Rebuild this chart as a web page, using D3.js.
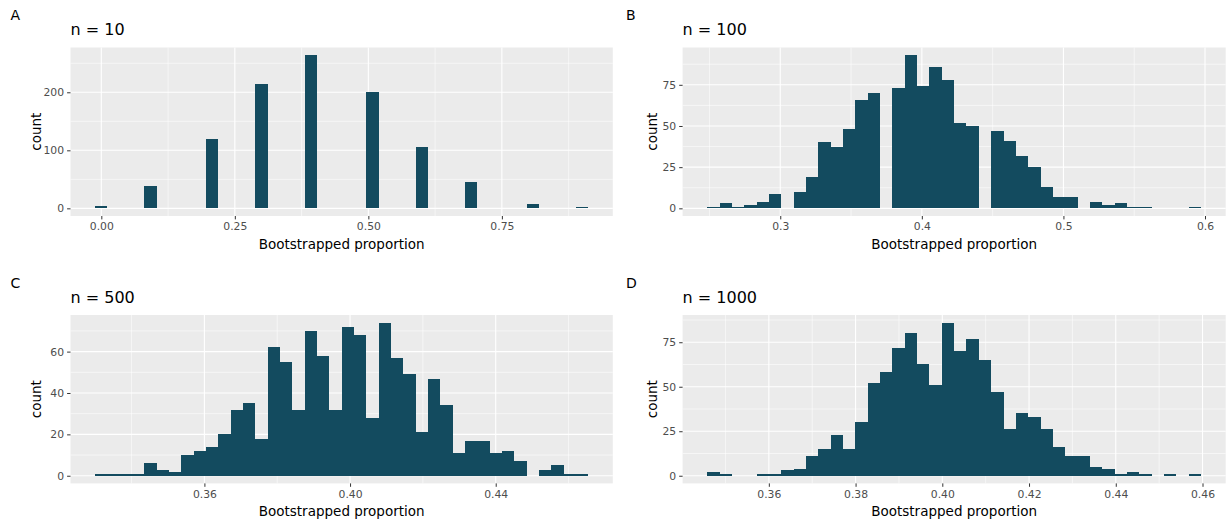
<!DOCTYPE html>
<html>
<head>
<meta charset="utf-8">
<script src="https://cdn.jsdelivr.net/npm/d3@7"></script>
<style>
  body { margin: 0; background: #fff; }
  svg { display: block; font-family: "DejaVu Sans", sans-serif; }
</style>
</head>
<body>
<div id="chart"></div>
<script>
// bootstrapped proportions, 40 bins per panel (ggplot style bins)
var panelLabels = ["A", "B", "C", "D"];
var panelTitles = ["n = 10", "n = 100", "n = 500", "n = 1000"];

// min / max of the bootstrapped values in each panel
var rangeA = [0, 0.9];
var rangeB = [0.25, 0.59];
var rangeC = [0.332, 0.464];
var rangeD = [0.347, 0.458];

// counts per bin
var countsA = [4, 0, 0, 0, 39, 0, 0, 0, 0, 119, 0, 0, 0, 214, 0, 0, 0, 264, 0, 0,
               0, 0, 200, 0, 0, 0, 106, 0, 0, 0, 45, 0, 0, 0, 0, 8, 0, 0, 0, 2];
var countsB = [1, 3, 1, 2, 4, 9, 0, 10, 19, 40, 37, 48, 66, 70, 0, 73, 93, 74, 86, 78,
               52, 50, 0, 47, 41, 32, 25, 13, 7, 7, 0, 4, 2, 3, 1, 1, 0, 0, 0, 1];
var countsC = [1, 1, 1, 1, 6, 3, 2, 10, 12, 14, 20, 32, 35, 18, 62, 55, 32, 70, 58, 32,
               72, 68, 28, 74, 57, 49, 21, 47, 34, 11, 17, 17, 11, 12, 7, 0, 3, 5, 1, 1];
var countsD = [2, 1, 0, 0, 1, 1, 3, 4, 11, 15, 23, 15, 30, 52, 58, 72, 80, 63, 51, 86,
               70, 77, 65, 47, 26, 35, 33, 26, 16, 11, 11, 5, 4, 1, 2, 1, 0, 1, 0, 1];

// axis breaks and labels
var xTicksA = [0, 0.25, 0.5, 0.75], xLabelsA = ["0.00", "0.25", "0.50", "0.75"], xMinorA = [0.125, 0.375, 0.625, 0.875];
var xTicksB = [0.3, 0.4, 0.5, 0.6], xLabelsB = ["0.3", "0.4", "0.5", "0.6"], xMinorB = [0.25, 0.35, 0.45, 0.55];
var xTicksC = [0.36, 0.40, 0.44], xLabelsC = ["0.36", "0.40", "0.44"], xMinorC = [0.34, 0.38, 0.42, 0.46];
var xTicksD = [0.36, 0.38, 0.40, 0.42, 0.44, 0.46], xLabelsD = ["0.36", "0.38", "0.40", "0.42", "0.44", "0.46"],
    xMinorD = [0.35, 0.37, 0.39, 0.41, 0.43, 0.45];
var yTicksA = [0, 100, 200], yMinorA = [50, 150, 250];
var yTicksB = [0, 25, 50, 75], yMinorB = [12.5, 37.5, 62.5, 87.5];
var yTicksC = [0, 20, 40, 60], yMinorC = [10, 30, 50, 70];
var yTicksD = [0, 25, 50, 75], yMinorD = [12.5, 37.5, 62.5, 87.5];

var xTitle = "Bootstrapped proportion", yTitle = "count";
var nBins = 40;
var barColor = "#134b5f";

var panels = [
  {range: rangeA, counts: countsA, xt: xTicksA, xl: xLabelsA, xm: xMinorA, yt: yTicksA, ym: yMinorA,
   cell: [0, 0], box: [70.5, 47.5, 612.8, 216]},
  {range: rangeB, counts: countsB, xt: xTicksB, xl: xLabelsB, xm: xMinorB, yt: yTicksB, ym: yMinorB,
   cell: [615.5, 0], box: [682.6, 47.5, 1225.7, 216]},
  {range: rangeC, counts: countsC, xt: xTicksC, xl: xLabelsC, xm: xMinorC, yt: yTicksC, ym: yMinorC,
   cell: [0, 267.5], box: [70.5, 315, 612.8, 483.4]},
  {range: rangeD, counts: countsD, xt: xTicksD, xl: xLabelsD, xm: xMinorD, yt: yTicksD, ym: yMinorD,
   cell: [615.5, 267.5], box: [682.6, 315, 1225.7, 483.4]}
];

var svg = d3.select("#chart").append("svg")
    .attr("width", 1231)
    .attr("height", 525);

svg.append("rect").attr("width", 1231).attr("height", 525).attr("fill", "#fff");

panels.forEach(function(p, idx) {
  var left = p.box[0], top = p.box[1], width = p.box[2] - p.box[0], height = p.box[3] - p.box[1];

  // bins: width = range / (bins - 1), centred on multiples of the width
  var w = (p.range[1] - p.range[0]) / (nBins - 1);
  var k0 = Math.round(p.range[0] / w);
  var bins = p.counts.map(function(c, i) {
    return {x0: (k0 + i - 0.5) * w, x1: (k0 + i + 0.5) * w, count: c};
  });

  var lo = bins[0].x0, hi = bins[bins.length - 1].x1, span = hi - lo;
  var maxC = d3.max(p.counts);

  var x = d3.scaleLinear().domain([lo - 0.05 * span, hi + 0.05 * span]).range([0, width]);
  var y = d3.scaleLinear().domain([-0.05 * maxC, maxC * 1.05]).range([height, 0]);

  var g = svg.append("g").attr("transform", "translate(" + left + "," + top + ")");

  // panel background + grid
  g.append("rect").attr("width", width).attr("height", height).attr("fill", "#ebebeb");

  var inX = function(v) { return v >= x.domain()[0] && v <= x.domain()[1]; };
  var inY = function(v) { return v >= y.domain()[0] && v <= y.domain()[1]; };

  g.selectAll(".ymin").data(p.ym.filter(inY)).enter().append("line")
      .attr("x1", 0).attr("x2", width)
      .attr("y1", function(d) { return y(d); }).attr("y2", function(d) { return y(d); })
      .attr("stroke", "#fff").attr("stroke-width", 0.55);
  g.selectAll(".xmin").data(p.xm.filter(inX)).enter().append("line")
      .attr("y1", 0).attr("y2", height)
      .attr("x1", function(d) { return x(d); }).attr("x2", function(d) { return x(d); })
      .attr("stroke", "#fff").attr("stroke-width", 0.55);
  g.selectAll(".ymaj").data(p.yt).enter().append("line")
      .attr("x1", 0).attr("x2", width)
      .attr("y1", function(d) { return y(d); }).attr("y2", function(d) { return y(d); })
      .attr("stroke", "#fff").attr("stroke-width", 1.1);
  g.selectAll(".xmaj").data(p.xt).enter().append("line")
      .attr("y1", 0).attr("y2", height)
      .attr("x1", function(d) { return x(d); }).attr("x2", function(d) { return x(d); })
      .attr("stroke", "#fff").attr("stroke-width", 1.1);

  // histogram bars
  g.selectAll(".bar")
      .data(bins.filter(function(b) { return b.count > 0; }))
      .enter().append("rect")
      .attr("class", "bar")
      .attr("x", function(d) { return x(d.x0); })
      .attr("width", function(d) { return x(d.x1) - x(d.x0); })
      .attr("y", function(d) { return y(d.count); })
      .attr("height", function(d) { return y(0) - y(d.count); })
      .attr("fill", barColor)
      .attr("shape-rendering", "crispEdges");

  // axes
  var xa = g.append("g")
      .attr("transform", "translate(0," + height + ")")
      .call(d3.axisBottom(x).tickValues(p.xt).tickSize(3.4).tickPadding(3.2)
        .tickFormat(function(d, i) { return p.xl[i]; }));
  var ya = g.append("g")
      .call(d3.axisLeft(y).tickValues(p.yt).tickSize(3.4).tickPadding(3)
        .tickFormat(function(d) { return d; }));
  [xa, ya].forEach(function(a) {
    a.select(".domain").remove();
    a.selectAll(".tick line").attr("stroke", "#333333").attr("stroke-width", 1);
    a.selectAll(".tick text").attr("fill", "#4d4d4d")
        .style("font-size", "10.8px").style("font-family", "'DejaVu Sans', sans-serif");
  });

  // axis titles
  svg.append("text")
      .attr("x", left + width / 2).attr("y", top + height + 33)
      .attr("text-anchor", "middle")
      .style("font-size", "13.5px")
      .text(xTitle);
  svg.append("text")
      .attr("transform", "translate(" + (p.cell[0] + 41) + "," + (top + height / 2) + ") rotate(-90)")
      .attr("text-anchor", "middle")
      .style("font-size", "13.5px")
      .text(yTitle);

  // plot title and panel label
  svg.append("text")
      .attr("x", left).attr("y", top - 12.5)
      .style("font-size", "16px")
      .text(panelTitles[idx]);
  svg.append("text")
      .attr("x", p.cell[0] + 10.5).attr("y", p.cell[1] + 20)
      .style("font-size", "14px")
      .text(panelLabels[idx]);
});
</script>
</body>
</html>
